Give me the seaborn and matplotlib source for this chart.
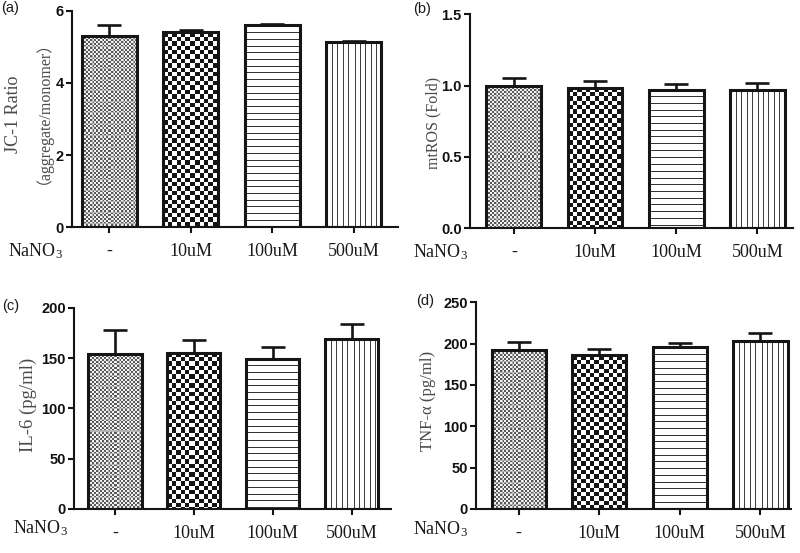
import numpy as np
import pandas as pd
import matplotlib
matplotlib.use("Agg")
import matplotlib.pyplot as plt
import seaborn as sns

# ---------------- data ----------------
groups = ["-", "10uM", "100uM", "500uM"]

jc1_mean = [5.31, 5.41, 5.61, 5.15]
jc1_err = [0.30, 0.06, 0.03, 0.03]

ros_mean = [1.000, 0.986, 0.972, 0.972]
ros_err = [0.054, 0.049, 0.042, 0.049]

il6_mean = [154.0, 155.0, 149.5, 169.0]
il6_err = [24.0, 12.5, 11.0, 14.6]

tnf_mean = [192.0, 186.0, 195.5, 203.0]
tnf_err = [9.5, 7.5, 5.0, 9.5]

yticks_a = [0, 2, 4, 6]
yticks_b = [0.0, 0.5, 1.0, 1.5]
yticks_c = [0, 50, 100, 150, 200]
yticks_d = [0, 50, 100, 150, 200, 250]

# ---------------- style ----------------
sns.set_theme(style="ticks")
SERIF = ["Liberation Serif", "Noto Sans CJK SC", "DejaVu Serif"]
SANS = ["Liberation Sans", "DejaVu Sans"]
plt.rcParams["font.family"] = SERIF
plt.rcParams["mathtext.fontset"] = "custom"
plt.rcParams["mathtext.rm"] = "Liberation Serif"
plt.rcParams["mathtext.it"] = "Liberation Serif:italic"

W, H = 800, 553
fig = plt.figure(figsize=(W / 100, H / 100), dpi=100)


def rect(l, r, t, b):
    return [l / W, 1 - b / H, (r - l) / W, (b - t) / H]


def texture(kind, hpx, wpx):
    yy, xx = np.mgrid[0:hpx, 0:wpx]
    img = np.ones((hpx, wpx, 3))
    if kind == 0:  # fine grey checker
        c = ((xx // 2) + (yy // 2)) % 2 == 0
        img[c] = 0.35
        img[~c] = 0.95
        grid = (xx % 10 == 0) | (yy % 11 == 0)
        img[grid] = 0.7
    elif kind == 1:  # coarse checker
        c = ((np.floor(xx / 4.4)) + (np.floor(yy / 4.4))) % 2 == 0
        img[c] = 0.08
    elif kind == 2:  # horizontal lines
        ln = (np.floor(yy % 6.7) == 0)
        img[ln] = 0.2
    else:  # vertical lines
        ln = (np.floor(xx % 5.4) == 0)
        img[ln] = 0.25
    return img


def panel(r, means, errs, ylim, yticks, ylabels, xlim, lab, lab_xy, nano_xy):
    ax = fig.add_axes(rect(*r))
    df = pd.DataFrame({"group": groups, "value": means})
    sns.barplot(data=df, x="group", y="value", order=groups, color="white",
                edgecolor="#151515", linewidth=2.2, width=0.675,
                errorbar=None, ax=ax, saturation=1)
    ax.set_xlim(*xlim)
    ax.set_ylim(*ylim)
    for i, p in enumerate(ax.patches):
        x0, y0 = p.get_x(), p.get_y()
        x1, y1 = x0 + p.get_width(), y0 + p.get_height()
        (px0, py0), (px1, py1) = ax.transData.transform([(x0, y0), (x1, y1)])
        hpx = max(int(round(abs(py1 - py0))), 1)
        wpx = max(int(round(abs(px1 - px0))), 1)
        im = ax.imshow(texture(i, hpx, wpx), extent=(x0, x1, y0, y1),
                       aspect="auto", interpolation="nearest", zorder=1.5)
        im.set_clip_path(p)
        p.set_facecolor("none")
        p.set_zorder(2)
    ax.errorbar(x=np.arange(len(groups)), y=means,
                yerr=[np.zeros(len(errs)), errs], fmt="none",
                ecolor="#151515", elinewidth=1.9, capsize=8.5, capthick=1.9,
                zorder=3)
    ax.set_xlim(*xlim)
    ax.set_ylim(*ylim)
    ax.set_xlabel("")
    ax.set_ylabel("")
    sns.despine(ax=ax)
    for s in ["left", "bottom"]:
        ax.spines[s].set_linewidth(1.5)
        ax.spines[s].set_color("#151515")
    ax.tick_params(axis="both", width=1.5, length=4.5, color="#151515")
    ax.tick_params(axis="x", pad=7)
    ax.tick_params(axis="y", pad=1.5)
    ax.set_yticks(yticks)
    if isinstance(yticks[1], float):
        ylbl = [f"{v:.1f}" for v in yticks]
    else:
        ylbl = [str(v) for v in yticks]
    ax.set_yticklabels(ylbl, fontweight="bold", family=SANS, fontsize=10.5,
                       color="#111111")
    ax.set_xticks(range(len(groups)))
    ax.set_xticklabels(groups, fontsize=13, color="#1a1a1a", family=SERIF)
    for (txt, x, y, size) in ylabels:
        fig.text(x / W, 1 - y / H, txt, rotation=90, ha="center",
                 va="center", fontsize=size, color="#4a4a4a", family=SERIF)
    fig.text(nano_xy[0] / W, 1 - nano_xy[1] / H, r"NaNO$_3$", ha="left",
             va="center", fontsize=13, color="#1a1a1a")
    fig.text(lab_xy[0] / W, 1 - lab_xy[1] / H, lab, ha="left", va="center",
             fontsize=10.5, family=SANS, color="#1a1a1a")
    return ax


panel((72, 398, 11, 227), jc1_mean, jc1_err, (0, 6), yticks_a,
      [("JC-1 Ratio", 14, 114, 13), ("（aggregate/monomer）", 35, 104, 11.5)],
      (-0.46, 3.54), "(a)", (1, 8), (8, 251))
panel((470, 793, 14.3, 228), ros_mean, ros_err, (0, 1.5), yticks_b,
      [("mtROS (Fold)", 433, 123, 11.5)],
      (-0.54, 3.44), "(b)", (413, 9), (413, 252))
panel((74, 391, 307.7, 509), il6_mean, il6_err, (0, 200), yticks_c,
      [("IL-6 (pg/ml)", 28, 405, 13.5)],
      (-0.52, 3.5), "(c)", (2, 306), (13, 528))
panel((476, 791, 302.3, 509), tnf_mean, tnf_err, (0, 250), yticks_d,
      [("TNF-α (pg/ml)", 428, 401, 12)],
      (-0.53, 3.38), "(d)", (416, 301), (413, 529))

fig.savefig("out.png", dpi=100, facecolor="white")
